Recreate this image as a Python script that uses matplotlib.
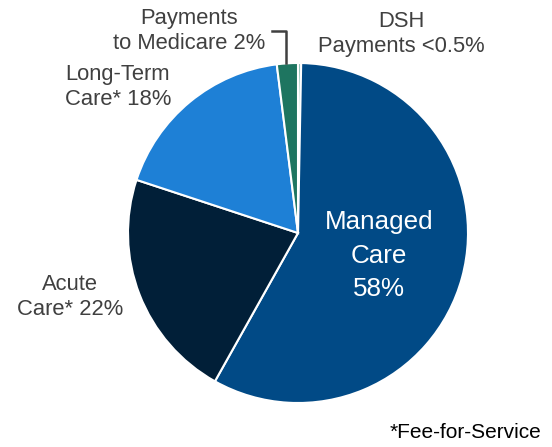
import matplotlib
matplotlib.use("Agg")
import matplotlib.pyplot as plt

plt.rcParams['font.family'] = ['Liberation Sans', 'DejaVu Sans']

categories = ["DSH Payments", "Managed Care", "Acute Care*", "Long-Term Care*", "Payments to Medicare"]
values = [0.3, 58, 22, 18, 2]
colors = ["#8FC1B5", "#014A86", "#011F38", "#1E80D6", "#1E7560"]

fig = plt.figure(figsize=(5.52, 4.47), dpi=100)
cx, cy, r = 298 / 552, 1 - 233 / 447, 170
w, h = 2 * r / 552, 2 * r / 447
ax = fig.add_axes([cx - w / 2, cy - h / 2, w, h])
ax.pie(values, colors=colors, startangle=90, counterclock=False,
       wedgeprops=dict(edgecolor="white", linewidth=1.5))
ax.set_xlim(-1, 1)
ax.set_ylim(-1, 1)
ax.axis("off")

def px(x, y):
    return x / 552, 1 - y / 447

gray = "#404040"
fs = 15.8
ls = 1.25
fig.text(*px(189, 31), "Payments\nto Medicare 2%", ha="center", va="center",
         fontsize=fs, color=gray, linespacing=ls)
fig.text(*px(401, 34), "DSH\nPayments <0.5%", ha="center", va="center",
         fontsize=fs, color=gray, linespacing=ls)
fig.text(*px(118, 87), "Long-Term\nCare* 18%", ha="center", va="center",
         fontsize=fs, color=gray, linespacing=ls)
fig.text(*px(70, 297), "Acute\nCare* 22%", ha="center", va="center",
         fontsize=fs, color=gray, linespacing=ls)
fig.text(*px(379, 256), "Managed\nCare\n58%", ha="center", va="center",
         fontsize=18.7, color="white", linespacing=1.5)
fig.text(*px(541, 432), "*Fee-for-Service", ha="right", va="center",
         fontsize=15, color="black")

# leader bracket for Medicare label
xs = [272 / 552, 286 / 552, 286 / 552]
ys = [1 - 31 / 447, 1 - 31 / 447, 1 - 63 / 447]
fig.add_artist(plt.Line2D(xs, ys, color="#404040", linewidth=1.8))

fig.savefig("out.png", dpi=100)
